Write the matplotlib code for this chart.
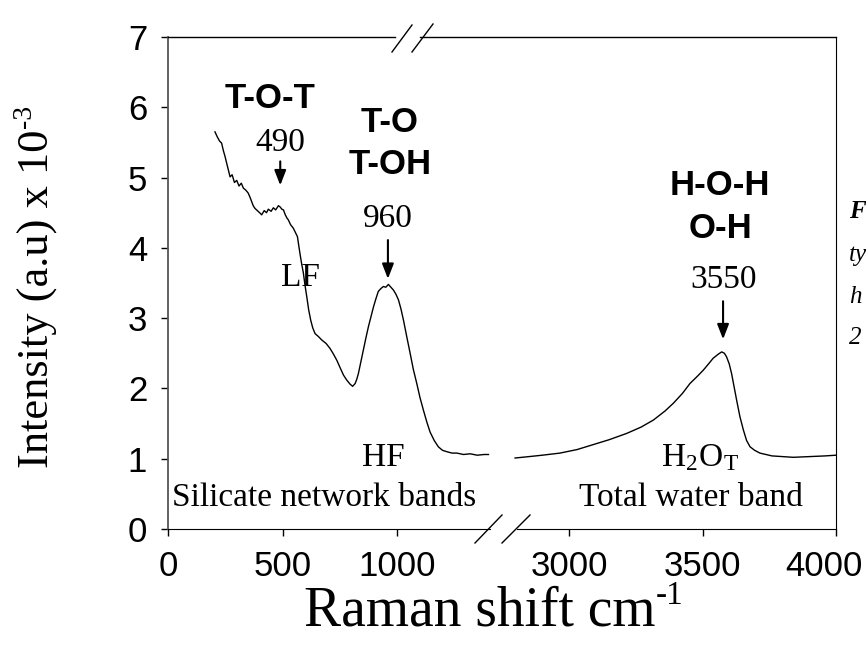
import matplotlib.pyplot as plt
from matplotlib.lines import Line2D
from matplotlib.transforms import ScaledTranslation

# silicate network region (left part of the broken axis)
shift_lf = [205, 215, 225, 234, 242, 249, 258, 271, 280, 290, 300, 310, 320, 329,
            340, 350, 358, 365, 372, 380, 390, 400, 409, 420, 430, 438, 450, 460,
            470, 482, 490, 497, 504, 512, 520, 525, 535, 547, 556, 565, 570, 576,
            583, 591, 598, 606, 614, 623, 632, 642, 656, 671, 690, 707, 722, 737,
            752, 766, 780, 795, 806, 817, 824, 831, 842, 853, 864, 875, 886, 897,
            908, 918, 929, 940, 951, 962, 973, 984, 995, 1006, 1017, 1028, 1042,
            1057, 1071, 1086, 1100, 1115, 1130, 1144, 1162, 1180, 1198, 1217, 1240,
            1261, 1290, 1319, 1350, 1380, 1399]
int_lf = [5.65, 5.58, 5.52, 5.49, 5.38, 5.30, 5.18, 5.01, 5.04, 4.93, 4.96, 4.88,
          4.92, 4.85, 4.82, 4.78, 4.72, 4.66, 4.60, 4.56, 4.53, 4.50, 4.47, 4.53,
          4.50, 4.55, 4.52, 4.57, 4.54, 4.60, 4.58, 4.55, 4.54, 4.47, 4.42, 4.40,
          4.33, 4.28, 4.22, 4.16, 4.05, 3.92, 3.78, 3.64, 3.47, 3.30, 3.12, 2.97,
          2.86, 2.78, 2.74, 2.69, 2.64, 2.57, 2.49, 2.40, 2.29, 2.19, 2.12, 2.06,
          2.03, 2.07, 2.13, 2.21, 2.38, 2.55, 2.72, 2.88, 3.02, 3.16, 3.28, 3.38,
          3.42, 3.45, 3.44, 3.48, 3.44, 3.40, 3.34, 3.26, 3.13, 2.97, 2.74, 2.50,
          2.27, 2.07, 1.87, 1.69, 1.52, 1.38, 1.26, 1.17, 1.12, 1.10, 1.08, 1.08,
          1.06, 1.07, 1.05, 1.06, 1.06]

# total water region (right part)
shift_w = [2798, 2850, 2900, 2966, 3030, 3090, 3150, 3216, 3270, 3316, 3360, 3391,
           3425, 3453, 3480, 3503, 3525, 3540, 3560, 3572, 3582, 3590, 3600, 3609,
           3618, 3628, 3640, 3653, 3665, 3678, 3695, 3715, 3760, 3800, 3840, 3900,
           3960, 4000]
int_w = [1.01, 1.03, 1.05, 1.08, 1.13, 1.20, 1.27, 1.36, 1.45, 1.55, 1.68, 1.79,
         1.93, 2.07, 2.17, 2.26, 2.36, 2.43, 2.49, 2.52, 2.50, 2.45, 2.35, 2.21,
         2.03, 1.83, 1.60, 1.41, 1.26, 1.17, 1.12, 1.08, 1.04, 1.03, 1.02, 1.03,
         1.04, 1.05]

serif = 'Liberation Serif'
sans = 'Liberation Sans'
plt.rcParams['font.family'] = sans
plt.rcParams['mathtext.fontset'] = 'stix'

W, H = 866, 646
fig = plt.figure(figsize=(W / 100, H / 100), dpi=100)


def fx(px):
    return px / W


def fy(py):
    return 1 - py / H


x0, xm, x1, ytop, ybot = 168, 502, 836, 37, 529
axL = fig.add_axes([fx(x0), fy(ybot), fx(xm) - fx(x0), fy(ytop) - fy(ybot)])
axR = fig.add_axes([fx(xm), fy(ybot), fx(x1) - fx(xm), fy(ytop) - fy(ybot)])

axL.plot(shift_lf, int_lf, color='black', lw=1)
axR.plot(shift_w, int_w, color='black', lw=1)

axL.set_xlim(0, 1458)
axR.set_xlim(2749, 4000)
for ax in (axL, axR):
    ax.set_ylim(0, 7)
    ax.spines['top'].set_visible(False)
    ax.tick_params(direction='out', length=5, width=1, labelsize=25, pad=10)

axL.set_xticks([0, 500, 1000])
axL.set_yticks(range(8))
axL.spines['right'].set_visible(False)
axL.spines['left'].set_color('#555555')
axL.spines['left'].set_linewidth(1.3)
axL.spines['bottom'].set_bounds(0, 1406)

axR.set_xticks([3000, 3500, 4000])
axR.set_yticks([])
axR.spines['left'].set_visible(False)
axR.spines['bottom'].set_bounds(2805, 4000)

# last tick label is pulled in so it stays inside the picture
last = axR.get_xticklabels()[-1]
last.set_transform(last.get_transform() + ScaledTranslation(-0.12, 0, fig.dpi_scale_trans))


# top border with break gap and the break marks
def seg(p, q):
    fig.add_artist(Line2D([fx(p[0]), fx(q[0])], [fy(p[1]), fy(q[1])],
                          color='black', lw=1))


seg((x0, ytop), (395, ytop))
seg((420, ytop), (x1, ytop))
seg((392, 52), (412, 25))
seg((412, 52), (433, 24))
seg((475, 543), (502, 515))
seg((502, 543), (530, 515))

# axis titles (superscripts as small separate texts)
ylab = fig.text(fx(38), fy(468), 'Intensity (a.u) x 10', rotation=90,
                ha='center', va='bottom', fontsize=32, family=serif)
fig.canvas.draw()
bb = ylab.get_window_extent()
fig.text(fx(24), bb.y1 / H + 0.002, '-3', rotation=90, ha='center', va='bottom',
         fontsize=20, family=serif)
fig.text(fx(655), fy(612), 'Raman shift cm', ha='right', va='center',
         fontsize=40, family=serif)
fig.text(fx(656), fy(596), '-1', ha='left', va='center', fontsize=24, family=serif)

bold = dict(fontsize=25, fontweight='bold', family=sans, ha='center', va='center')
txt = dict(fontsize=24, family=serif, ha='center', va='center')
arrow = dict(arrowstyle='-|>,head_width=0.35,head_length=0.9', color='black', lw=1.5)

axL.text(445, 6.13, 'T-O-T', **bold)
axL.text(490, 5.49, '490', **txt)
axL.annotate('', xy=(490, 4.85), xytext=(490, 5.27), arrowprops=arrow)
axL.text(969, 5.79, 'T-O', **bold)
axL.text(969, 5.18, 'T-OH', **bold)
axL.text(960, 4.42, '960', **txt)
axL.annotate('', xy=(960, 3.52), xytext=(960, 4.15), arrowprops=arrow)
axL.text(576, 3.58, 'LF', **txt)
axL.text(939, 1.01, 'HF', **txt)
axL.text(17, 0.45, 'Silicate network bands', fontsize=24, family=serif,
         ha='left', va='center')

axR.text(3566, 4.89, 'H-O-H', **bold)
axR.text(3566, 4.28, 'O-H', **bold)
axR.text(3577, 3.54, '3550', **txt)
axR.annotate('', xy=(3577, 2.66), xytext=(3577, 3.28), arrowprops=arrow)
axR.text(3490, 1.0, 'H$_{\\mathregular{2}}$O$_{\\mathregular{T}}$', **txt)
axR.text(3457, 0.45, 'Total water band', **txt)

# caption fragments at the right edge
cap = dict(fontsize=18, family=serif, style='italic', va='center', ha='left')
fig.text(fx(849), fy(212), 'F', fontweight='bold', **cap)
fig.text(fx(849), fy(255), 'ty', **cap)
fig.text(fx(849), fy(297), 'h', **cap)
fig.text(fx(849), fy(338), '2', **cap)

fig.savefig('out.png', dpi=100)
